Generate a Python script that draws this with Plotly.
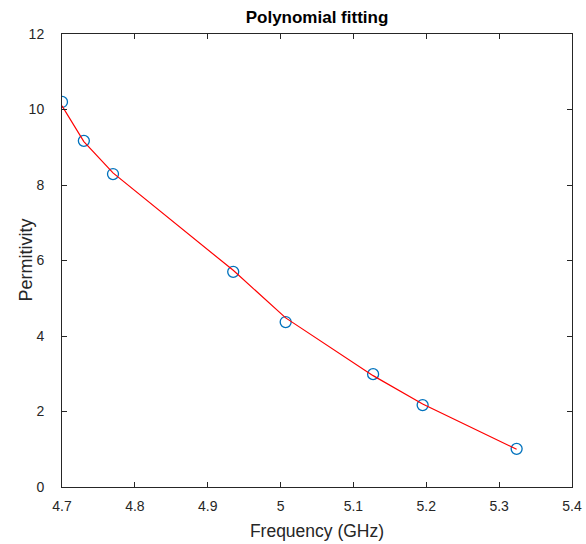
import plotly.graph_objects as go

freq = [4.70, 4.73, 4.77, 4.935, 5.007, 5.127, 5.195, 5.324]
permittivity = [10.2, 9.17, 8.29, 5.70, 4.37, 2.99, 2.17, 1.01]
fitted = [10.1, 9.15, 8.32, 5.74, 4.48, 2.95, 2.20, 1.00]
x_ticks = [4.7, 4.8, 4.9, 5.0, 5.1, 5.2, 5.3, 5.4]
x_tick_labels = ["4.7", "4.8", "4.9", "5", "5.1", "5.2", "5.3", "5.4"]
y_ticks = [0, 2, 4, 6, 8, 10, 12]

FONT = "Liberation Sans, Arial"

fig = go.Figure()
fig.add_trace(go.Scatter(x=freq, y=permittivity, mode="markers",
                         marker=dict(symbol="circle-open", size=11, color="#0072BD",
                                     line=dict(width=1.3, color="#0072BD")),
                         showlegend=False))
fig.add_trace(go.Scatter(x=freq, y=fitted, mode="lines",
                         line=dict(color="#FF0000", width=1.2), showlegend=False))

axis_common = dict(showline=True, linecolor="#262626", linewidth=1, mirror="ticks",
                   ticks="inside", ticklen=5, tickcolor="#262626", showgrid=False,
                   zeroline=False, automargin=False,
                   tickfont=dict(family=FONT, size=14, color="#262626"))

fig.update_xaxes(range=[4.7, 5.4], tickvals=x_ticks, ticktext=x_tick_labels,
                 ticklabelstandoff=6,
                 title=dict(text="Frequency (GHz)", font=dict(family=FONT, size=17.5, color="#262626"), standoff=11),
                 **axis_common)
fig.update_yaxes(range=[0, 12], tickvals=y_ticks, ticklabelstandoff=14,
                 **axis_common)

fig.add_annotation(text="Permitivity", textangle=-90, showarrow=False,
                   xref="paper", yref="paper", x=0, y=0.5, xshift=-37,
                   xanchor="center", yanchor="middle",
                   font=dict(family=FONT, size=18, color="#262626"))

fig.update_layout(
    width=586, height=544,
    margin=dict(l=62, r=14, t=34, b=57),
    paper_bgcolor="white", plot_bgcolor="white",
    title=dict(text="<b>Polynomial fitting</b>", x=0.5, xref="paper", xanchor="center",
               y=1, yref="container", yanchor="top", pad=dict(t=11),
               font=dict(family=FONT, size=17, color="black")),
)

fig.write_html("out.html", config={"displayModeBar": False},
               post_script="document.body.style.margin='0';document.body.style.overflow='hidden';")
